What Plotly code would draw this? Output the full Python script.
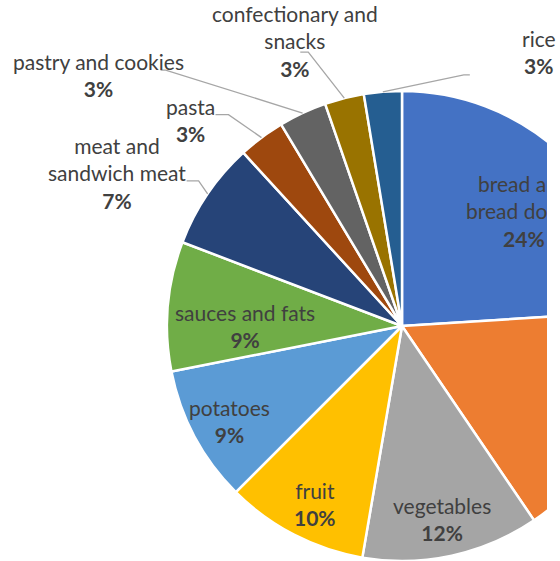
import math
import plotly.graph_objects as go

# ---------------- data ----------------
categories = ["bread and bread dough", "dairy products", "vegetables", "fruit",
              "potatoes", "sauces and fats", "meat and sandwich meat", "pasta",
              "pastry and cookies", "confectionary and snacks", "rice"]
shares = [24.0, 16.5, 12.2, 9.8, 9.4, 8.9, 7.4, 3.2, 3.3, 2.7, 2.6]
display_labels = ["bread and<br>bread dough", "dairy<br>products", "vegetables", "fruit",
                  "potatoes", "sauces and fats", "meat and<br>sandwich meat", "pasta",
                  "pastry and cookies", "confectionary and<br>snacks", "rice"]

# ---------------- style ----------------
colors = ["#4472C4", "#ED7D31", "#A5A5A5", "#FFC000", "#5B9BD5", "#70AD47",
          "#264478", "#9E480E", "#636363", "#997300", "#255E91"]
W, H = 700, 561            # figure wider than the window: pie is cut at the right
PLOT_CLIP_X = 547          # plot area is cut here (outside labels above it are not)
PLOT_CLIP_TOP = 100
CX, CY, R = 402, 326, 235  # pie centre / radius in pixels
FONT = "Lato"
FSIZE = 21
TXT = "#404040"
LEADER = "#A6A6A6"

# inside labels: radial fraction of radius + pixel nudge
inside_style = {"bread and bread dough": (0.70, 9, 5), "dairy products": (1.35, 0, 0),
                "vegetables": (0.84, -2, 0), "fruit": (0.84, 4, 3),
                "potatoes": (0.83, 0, 3), "sauces and fats": (0.67, 0, 13)}
# outside labels: text offset from slice edge, leader elbow offset, horizontal tail
outside_style = {
    "meat and sandwich meat": dict(text=(-91, -21), elbow=(-9, -13), tail=-12),
    "pasta": dict(text=(-71, -18), elbow=(-33, -23), tail=-13),
    "pastry and cookies": dict(text=(-204, -38), elbow=(-137, -43), tail=-5),
    "confectionary and snacks": dict(text=(-49, -57), elbow=(-36, -46), tail=-8),
    "rice": dict(text=(156, -40), elbow=(81, -17), tail=6),
}


def px2paper(x, y):
    return x / W, 1 - y / H


fig = go.Figure(go.Pie(
    labels=categories, values=shares, sort=False, direction="clockwise", rotation=0,
    marker=dict(colors=colors, line=dict(color="white", width=2.5)),
    textinfo="none", hoverinfo="none", showlegend=False,
    domain=dict(x=[(CX - R) / W, (CX + R) / W], y=[1 - (CY + R) / H, 1 - (CY - R) / H]),
))

total = sum(shares)
cum = 0.0
annotations = []
shapes = []
outside_ann = []
for cat, lab, v in zip(categories, display_labels, shares):
    mid = (cum + v / 2) / total * 2 * math.pi
    cum += v
    pct = int(math.floor(v / total * 100 + 0.5))
    text = f"{lab}<br><b>{pct}%</b>"
    sx, sy = math.sin(mid), -math.cos(mid)
    if cat in inside_style:
        f, nx, ny = inside_style[cat]
        x, y = px2paper(CX + f * R * sx + nx, CY + f * R * sy + ny)
        target = annotations
    else:
        st = outside_style[cat]
        tx, ty = CX + R * sx, CY + R * sy
        ex, ey = tx + st["elbow"][0], ty + st["elbow"][1]
        hx = ex + st["tail"]
        p = [px2paper(tx, ty), px2paper(ex, ey), px2paper(hx, ey)]
        path = "M {} {} L {} {} L {} {}".format(p[0][0], p[0][1], p[1][0], p[1][1], p[2][0], p[2][1])
        shapes.append(dict(type="path", xref="paper", yref="paper", path=path,
                           line=dict(color=LEADER, width=1.3)))
        x, y = px2paper(tx + st["text"][0], ty + st["text"][1])
        target = outside_ann
    target.append(dict(x=x, y=y, xref="paper", yref="paper", text=text,
                       showarrow=False, xanchor="center", yanchor="middle",
                       align="center", font=dict(family=FONT, size=FSIZE, color=TXT)))

# white mask: the chart area ends at PLOT_CLIP_X (pie and inside labels are cut there)
mx, my = px2paper(PLOT_CLIP_X, PLOT_CLIP_TOP)
mask = dict(x=mx, y=my, xref="paper", yref="paper", xanchor="left", yanchor="top",
            text=" ", showarrow=False, width=W - PLOT_CLIP_X, height=H - PLOT_CLIP_TOP,
            bgcolor="white", borderpad=0, borderwidth=0)

fig.update_layout(width=W, height=H, margin=dict(l=0, r=0, t=0, b=0),
                  paper_bgcolor="white", plot_bgcolor="white",
                  annotations=annotations + [mask] + outside_ann, shapes=shapes)

fig.write_html("out.html", config={"displayModeBar": False},
               post_script="document.body.style.margin='0';"
                           "document.body.style.overflow='hidden';"
                           "document.documentElement.style.overflow='hidden';")
